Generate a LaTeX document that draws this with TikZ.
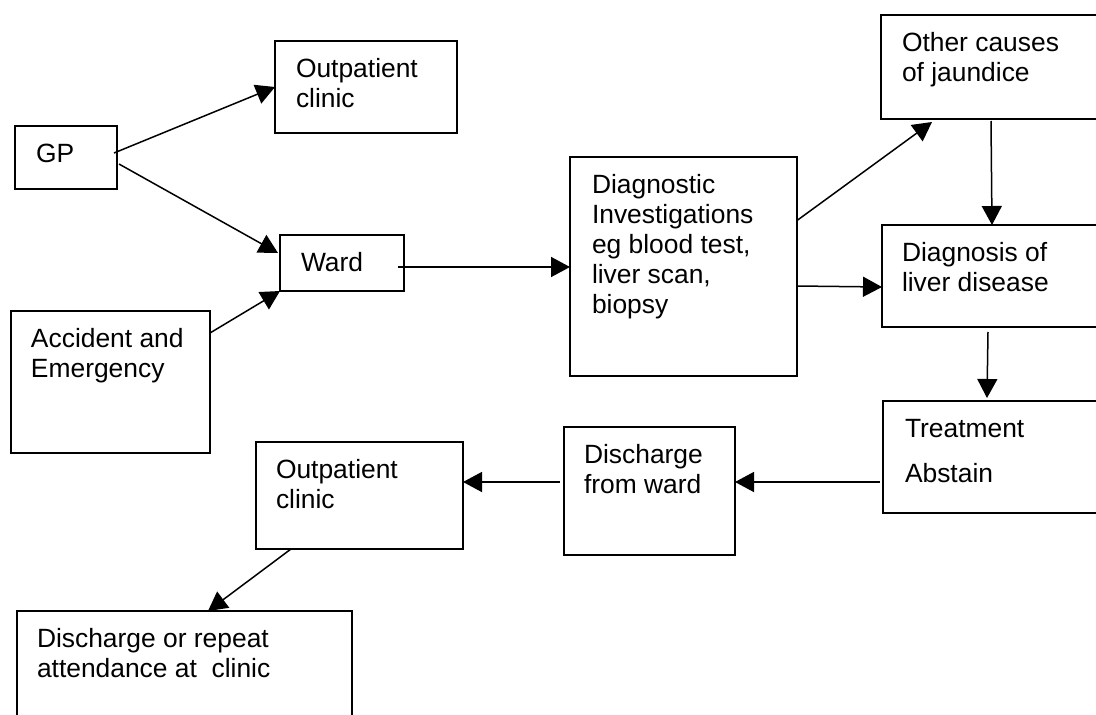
\documentclass[tikz,border=0pt]{standalone}
\usepackage{fontspec}
\setmainfont{Liberation Sans}
\usetikzlibrary{arrows.meta}
\newcommand{\boxtxt}[4]{\parbox[c][#2][t]{#1}{\raggedright\leftskip=#3\relax\fontsize{26.4}{30}\selectfont\rule{0pt}{36pt}#4}}
\tikzset{
  flowbox/.style={draw, line width=1.5pt, inner sep=0pt, outer sep=0pt, anchor=north west},
  flowarrow/.style={line width=1.5pt, -{Triangle[length=19pt,width=20pt]}}
}
\begin{document}
\begin{tikzpicture}[x=1pt,y=-1pt]
\useasboundingbox (0,0) rectangle (1096,715);
\fill[white] (0,0) rectangle (1096,715);
\clip (0,0) rectangle (1096,715);
\node[flowbox] (gp) at (15,126) {\boxtxt{102pt}{63pt}{21pt}{GP}};
\node[flowbox] (out1) at (275,41) {\boxtxt{182pt}{92pt}{21pt}{Outpatient\\clinic}};
\node[flowbox] (ward) at (280,235) {\boxtxt{124pt}{56pt}{21pt}{Ward}};
\node[flowbox] (ae) at (11,311) {\boxtxt{199pt}{142pt}{20pt}{Accident and\\Emergency}};
\node[flowbox] (diag) at (570,157) {\boxtxt{227pt}{219pt}{22pt}{Diagnostic\\Investigations\\eg blood test,\\liver scan,\\biopsy}};
\node[flowbox] (other) at (881,15) {\boxtxt{240pt}{104pt}{21pt}{Other causes\\of jaundice}};
\node[flowbox] (dld) at (882,225) {\boxtxt{240pt}{102pt}{20pt}{Diagnosis of\\liver disease}};
\node[flowbox] (treat) at (883,401) {\boxtxt{240pt}{112pt}{22pt}{Treatment\\[15pt]Abstain}};
\node[flowbox] (disch) at (564,427) {\boxtxt{171pt}{128pt}{20pt}{Discharge\\from ward}};
\node[flowbox] (out2) at (256,442) {\boxtxt{207pt}{107pt}{20pt}{Outpatient\\clinic}};
\node[flowbox] (final) at (17,611) {\boxtxt{335pt}{130pt}{20pt}{Discharge or repeat\\attendance at~ clinic}};

\draw[flowarrow] ([xshift=-3pt,yshift=4.5pt]gp.east) -- (out1.west);
\draw[flowarrow] ([xshift=2pt,yshift=-6.5pt]gp.east) -- ([xshift=-2pt,yshift=10pt]ward.west);
\draw[flowarrow] ([yshift=-22pt]ae.north east) -- (ward.south west);
\draw[flowarrow] ([xshift=-6pt,yshift=-4pt]ward.east) -- ([yshift=-0.5pt]diag.west);
\draw[flowarrow] ([yshift=46pt]diag.east) -- ([xshift=51pt,yshift=-3pt]other.south west);
\draw[flowarrow] ([xshift=110pt,yshift=-2pt]other.south west) -- ([xshift=110pt]dld.north west);
\draw[flowarrow] ([yshift=-19.5pt]diag.east) -- ([yshift=-11pt]dld.west);
\draw[flowarrow] ([xshift=106pt,yshift=-5pt]dld.south west) -- ([xshift=104pt,yshift=3pt]treat.north west);
\draw[flowarrow] ([xshift=-3pt,yshift=-25pt]treat.west) -- ([yshift=9pt]disch.east);
\draw[flowarrow] ([xshift=-4pt,yshift=9pt]disch.west) -- ([yshift=13.5pt]out2.east);
\draw[flowarrow] ([xshift=35pt]out2.south west) -- ([xshift=191pt]final.north west);
\end{tikzpicture}
\end{document}
